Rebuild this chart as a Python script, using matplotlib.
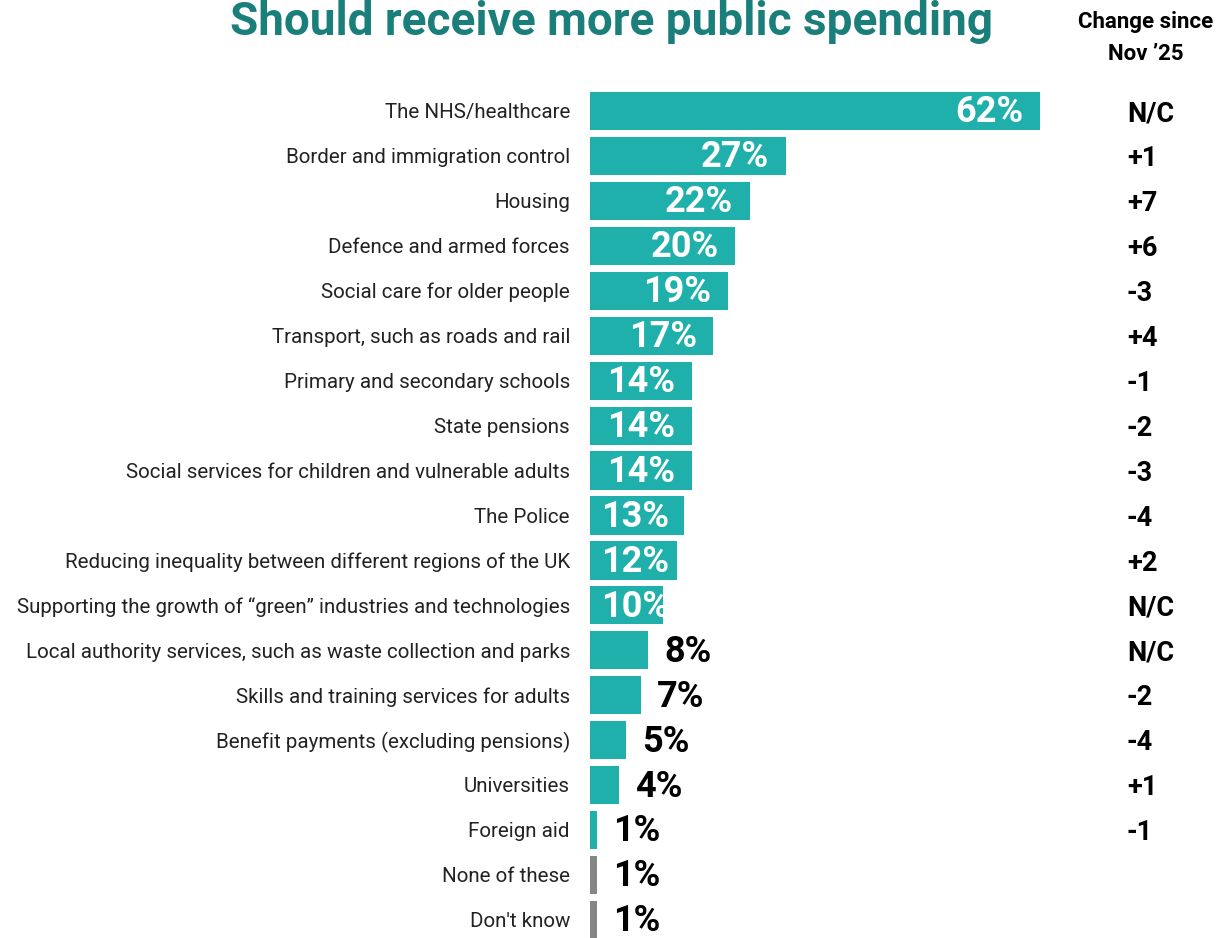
import numpy as np
import matplotlib.pyplot as plt
from matplotlib.transforms import blended_transform_factory

plt.rcParams['font.family'] = ['Roboto', 'DejaVu Sans']

categories = ['The NHS/healthcare', 'Border and immigration control', 'Housing',
              'Defence and armed forces', 'Social care for older people',
              'Transport, such as roads and rail', 'Primary and secondary schools',
              'State pensions', 'Social services for children and vulnerable adults',
              'The Police', 'Reducing inequality between different regions of the UK',
              'Supporting the growth of \u201cgreen\u201d industries and technologies',
              'Local authority services, such as waste collection and parks',
              'Skills and training services for adults',
              'Benefit payments (excluding pensions)', 'Universities', 'Foreign aid',
              'None of these', "Don't know"]
values = [62, 27, 22, 20, 19, 17, 14, 14, 14, 13, 12, 10, 8, 7, 5, 4, 1, 1, 1]
changes = ['N/C', '+1', '+7', '+6', '-3', '+4', '-1', '-2', '-3', '-4', '+2',
           'N/C', 'N/C', '-2', '-4', '+1', '-1', '', '']
grey_cats = ['None of these', "Don't know"]

teal = '#20b0ac'
grey = '#858585'

W, H = 1221, 938
fig = plt.figure(figsize=(W / 100, H / 100), dpi=100)
left = 590 / W
top = 1 - 88.5 / H
ax = fig.add_axes([left, 0, 1 - left, top])

y = np.arange(len(categories))
colors = [grey if c in grey_cats else teal for c in categories]
ax.barh(y, values, height=0.85, color=colors)

scale = 7.26  # px per percent
ax.set_xlim(0, (W - 590) / scale)
ax.set_ylim(18.4, -0.5)
ax.axis('off')

for i, (c, v) in enumerate(zip(categories, values)):
    ax.text(-20 / scale, i + 0.04, c, ha='right', va='center', fontsize=14.8, color='#222222')
    if v >= 10:
        ax.text(max(v - 2.3, 10.9), i + 0.03, f'{v}%', ha='right', va='center',
                fontsize=26, fontweight='bold', color='white', clip_on=False)
    else:
        ax.text(v + 16 / scale, i + 0.03, f'{v}%', ha='left', va='center',
                fontsize=26, fontweight='bold', color='black')

tr = blended_transform_factory(fig.transFigure, ax.transData)
for i, ch in enumerate(changes):
    if ch:
        ax.text(1127 / W, i + 0.06, ch, transform=tr, ha='left', va='center',
                fontsize=19.5, fontweight='bold', color='black')

fig.text(612 / W, 1 - 22 / H, 'Should receive more public spending', ha='center', va='center',
         fontsize=33, fontweight='bold', color='#1a7f7a')
fig.text(1146 / W, 1 - 38 / H, 'Change since\nNov \u201925', ha='center', va='center',
         fontsize=16, fontweight='bold', color='black', linespacing=1.55)

fig.savefig('out.png', dpi=100)
